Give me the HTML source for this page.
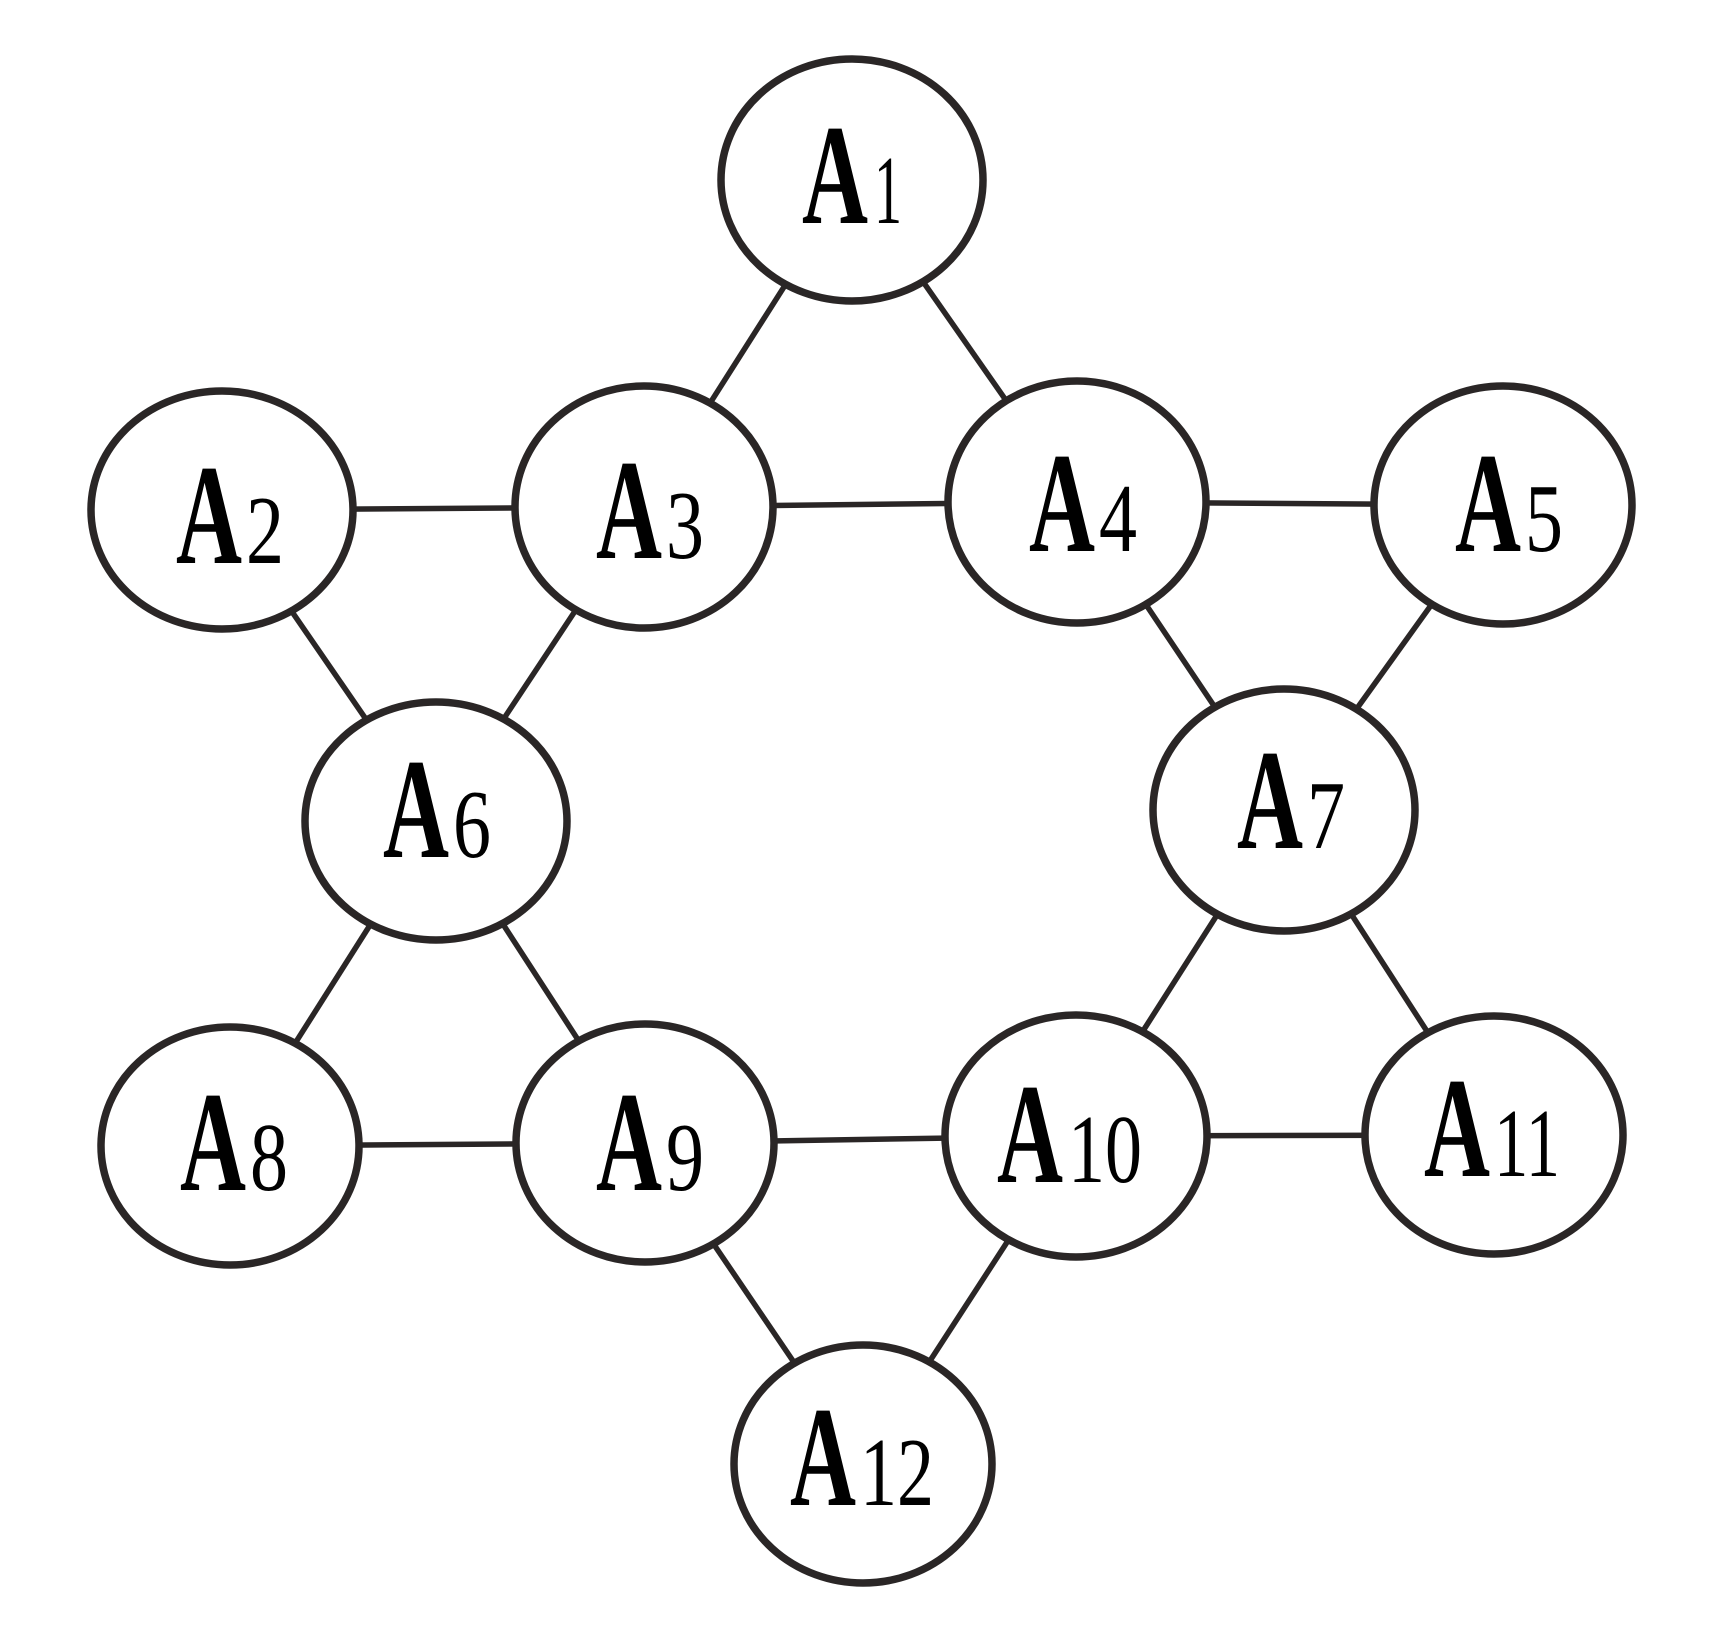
<!DOCTYPE html>
<html><head><meta charset="utf-8"><style>html,body{margin:0;padding:0;background:#fff}svg{display:block}</style></head>
<body>
<svg width="1717" height="1626" viewBox="0 0 1717 1626" xmlns="http://www.w3.org/2000/svg">
<g stroke="#2a2626" stroke-width="5.5">
<line x1="852" y1="180" x2="644" y2="507"/>
<line x1="852" y1="180" x2="1077" y2="502"/>
<line x1="222" y1="510" x2="644" y2="507"/>
<line x1="644" y1="507" x2="1077" y2="502"/>
<line x1="1077" y1="502" x2="1503" y2="505"/>
<line x1="222" y1="510" x2="436" y2="821"/>
<line x1="644" y1="507" x2="436" y2="821"/>
<line x1="1077" y1="502" x2="1284" y2="810"/>
<line x1="1503" y1="505" x2="1284" y2="810"/>
<line x1="436" y1="821" x2="230" y2="1146"/>
<line x1="436" y1="821" x2="645" y2="1143"/>
<line x1="1284" y1="810" x2="1076" y2="1136"/>
<line x1="1284" y1="810" x2="1494" y2="1135"/>
<line x1="230" y1="1146" x2="645" y2="1143"/>
<line x1="645" y1="1143" x2="1076" y2="1136"/>
<line x1="1076" y1="1136" x2="1494" y2="1135"/>
<line x1="645" y1="1143" x2="863" y2="1464"/>
<line x1="1076" y1="1136" x2="863" y2="1464"/>
</g>
<g fill="#fff" stroke="#2a2626" stroke-width="7.5">
<ellipse cx="852" cy="180" rx="131" ry="121"/>
<ellipse cx="222" cy="510" rx="131" ry="119"/>
<ellipse cx="644" cy="507" rx="129" ry="121"/>
<ellipse cx="1077" cy="502" rx="129" ry="121"/>
<ellipse cx="1503" cy="505" rx="129" ry="119"/>
<ellipse cx="436" cy="821" rx="131" ry="119"/>
<ellipse cx="1284" cy="810" rx="131" ry="121"/>
<ellipse cx="230" cy="1146" rx="129" ry="119"/>
<ellipse cx="645" cy="1143" rx="129" ry="119"/>
<ellipse cx="1076" cy="1136" rx="131" ry="121"/>
<ellipse cx="1494" cy="1135" rx="129" ry="119"/>
<ellipse cx="863" cy="1464" rx="129" ry="119"/>
</g>
<g font-family="Liberation Serif, serif" fill="#000">
<text x="802" y="223" font-size="143" font-weight="bold" textLength="66" lengthAdjust="spacingAndGlyphs">A</text><text x="874" y="223" font-size="98" textLength="28" lengthAdjust="spacingAndGlyphs">1</text>
<text x="176" y="563" font-size="143" font-weight="bold" textLength="66" lengthAdjust="spacingAndGlyphs">A</text><text x="246" y="563" font-size="98" textLength="38" lengthAdjust="spacingAndGlyphs">2</text>
<text x="596" y="558" font-size="143" font-weight="bold" textLength="66" lengthAdjust="spacingAndGlyphs">A</text><text x="666" y="558" font-size="98" textLength="38" lengthAdjust="spacingAndGlyphs">3</text>
<text x="1029" y="551" font-size="143" font-weight="bold" textLength="66" lengthAdjust="spacingAndGlyphs">A</text><text x="1099" y="551" font-size="98" textLength="38" lengthAdjust="spacingAndGlyphs">4</text>
<text x="1455" y="551" font-size="143" font-weight="bold" textLength="66" lengthAdjust="spacingAndGlyphs">A</text><text x="1525" y="551" font-size="98" textLength="38" lengthAdjust="spacingAndGlyphs">5</text>
<text x="383" y="857" font-size="143" font-weight="bold" textLength="66" lengthAdjust="spacingAndGlyphs">A</text><text x="453" y="857" font-size="98" textLength="38" lengthAdjust="spacingAndGlyphs">6</text>
<text x="1237" y="848" font-size="143" font-weight="bold" textLength="66" lengthAdjust="spacingAndGlyphs">A</text><text x="1307" y="848" font-size="98" textLength="38" lengthAdjust="spacingAndGlyphs">7</text>
<text x="180" y="1190" font-size="143" font-weight="bold" textLength="66" lengthAdjust="spacingAndGlyphs">A</text><text x="250" y="1190" font-size="98" textLength="38" lengthAdjust="spacingAndGlyphs">8</text>
<text x="596" y="1190" font-size="143" font-weight="bold" textLength="66" lengthAdjust="spacingAndGlyphs">A</text><text x="666" y="1190" font-size="98" textLength="38" lengthAdjust="spacingAndGlyphs">9</text>
<text x="997" y="1182" font-size="143" font-weight="bold" textLength="66" lengthAdjust="spacingAndGlyphs">A</text><text x="1068" y="1182" font-size="98" textLength="74" lengthAdjust="spacingAndGlyphs">10</text>
<text x="1424" y="1176" font-size="143" font-weight="bold" textLength="66" lengthAdjust="spacingAndGlyphs">A</text><text x="1494" y="1176" font-size="98" textLength="66" lengthAdjust="spacingAndGlyphs">11</text>
<text x="790" y="1505" font-size="143" font-weight="bold" textLength="66" lengthAdjust="spacingAndGlyphs">A</text><text x="860" y="1505" font-size="98" textLength="74" lengthAdjust="spacingAndGlyphs">12</text>
</g>
</svg>
</body></html>
